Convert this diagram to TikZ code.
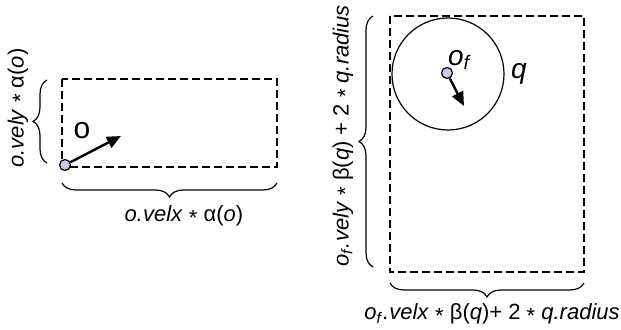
\documentclass[tikz,border=0pt]{standalone}
\usepackage{fontspec}
\setmainfont{Liberation Sans}
\usetikzlibrary{arrows.meta,positioning,decorations.pathreplacing}
\definecolor{dotfill}{HTML}{C5CAE6}
\newcommand{\tms}{\raisebox{-.35ex}{*}}

\begin{document}
\begin{tikzpicture}[x=0.5pt, y=-0.5pt,
  box/.style={draw, line width=1.25pt, dash pattern=on 4pt off 2pt},
  dot/.style={circle, draw, line width=0.6pt, fill=dotfill, inner sep=0pt, minimum size=5.5pt},
  arr/.style={-{Triangle[length=7pt,width=6pt]}, line width=1.2pt},
  brace/.style={decorate, decoration={brace, amplitude=7pt}, line width=0.6pt},
  lbl/.style={font=\fontsize{11}{13}\selectfont, inner sep=0pt}
]
\useasboundingbox (0,0) rectangle (621,330);

% object o and its box
\draw[box] (62,79) rectangle (277,167);
\node[dot] (o) at (65,165) {};
\coordinate (otip) at (121,136);
\draw[arr] (o) -- (otip);
\node[font=\fontsize{15}{17}\selectfont, inner sep=0pt] (olbl) at (82,131) {o};

\draw[brace] (47,163) -- (47,80);
\draw[brace] (277,183) -- (62,183);
\node[lbl, rotate=90] (oy) at (18,108) {\textit{o.vely} \tms{} α(\textit{o})};
\node[lbl] (ox) at (184,216) {\textit{o.velx} \tms{} α(\textit{o})};

% fused object of and its box
\draw[box] (390,16) rectangle (584,272);
\node[circle, draw, line width=0.6pt, minimum size=56pt, inner sep=0pt] (q) at (448,74) {};
\node[dot] (of) at (447,73) {};
\coordinate (oftip) at (464,106);
\draw[arr] (of) -- (oftip);
\node[font=\fontsize{14}{16}\selectfont, inner sep=0pt] (oflbl) at (460,60) {\textit{o}\textsubscript{\textit{f}}};
\node[font=\fontsize{14}{16}\selectfont, inner sep=0pt, right=3pt of q] (qlbl) {\textit{q}};

\draw[brace] (373,267) -- (373,16);
\draw[brace] (584,283) -- (390,283);
\node[lbl, rotate=90] (ofy) at (343,136) {\textit{o}\textsubscript{\textit{f}}\textit{.vely} \tms{} β(\textit{q}) + 2 \tms{} \textit{q.radius}};
\node[lbl] (ofx) at (492,314) {\textit{o}\textsubscript{\textit{f}}\textit{.velx} \tms{} β(\textit{q})+ 2 \tms{} \textit{q.radius}};
\end{tikzpicture}
\end{document}
